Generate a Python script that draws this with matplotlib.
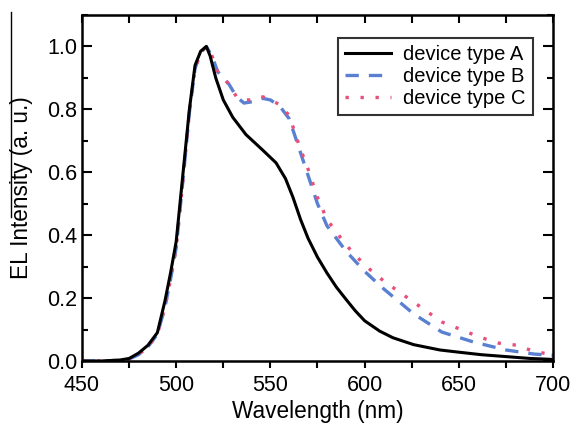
import matplotlib
matplotlib.use("Agg")
import matplotlib.pyplot as plt
from matplotlib.lines import Line2D
from matplotlib.ticker import MultipleLocator, FormatStrFormatter

plt.rcParams['font.family'] = ['Liberation Sans', 'DejaVu Sans']

# device type A
wl_a = [450, 460, 470, 475, 480, 485, 490, 494, 497, 500, 504, 507, 510, 513, 516,
        518, 521, 525, 530, 537, 546, 553, 558, 562, 566, 570, 575, 580, 585, 590,
        595, 600, 608, 615, 626, 640, 650, 662, 675, 688, 700]
int_a = [0.0, 0.0, 0.003, 0.008, 0.025, 0.05, 0.09, 0.19, 0.28, 0.38, 0.62, 0.80, 0.94, 0.985, 1.0,
         0.97, 0.90, 0.83, 0.775, 0.72, 0.67, 0.63, 0.58, 0.52, 0.45, 0.39, 0.33, 0.28, 0.235, 0.197,
         0.16, 0.128, 0.095, 0.074, 0.052, 0.035, 0.028, 0.02, 0.014, 0.008, 0.005]

# device type B
wl_b = [450, 460, 470, 475, 480, 485, 490, 494, 497, 500, 504, 507, 510, 513, 516,
        519, 522, 525, 528, 532, 536, 541, 546, 550, 555, 560, 565, 570, 575,
        580, 590, 600, 610, 620, 626, 641, 658, 675, 690, 700]
int_b = [0.0, 0.0, 0.002, 0.006, 0.02, 0.045, 0.085, 0.17, 0.26, 0.36, 0.60, 0.79, 0.93, 0.98, 1.0,
         0.97, 0.92, 0.90, 0.88, 0.84, 0.82, 0.825, 0.835, 0.83, 0.81, 0.77, 0.68, 0.59, 0.50,
         0.43, 0.35, 0.285, 0.23, 0.18, 0.15, 0.092, 0.06, 0.035, 0.022, 0.018]

# device type C
wl_c = [450, 460, 470, 475, 480, 485, 490, 494, 497, 500, 504, 507, 510, 513, 516,
        519, 522, 525, 528, 532, 536, 541, 546, 550, 555, 560, 565, 570, 575,
        580, 590, 600, 610, 623, 641, 652, 661, 671, 681, 690, 700]
int_c = [0.0, 0.0, 0.002, 0.006, 0.02, 0.045, 0.085, 0.17, 0.26, 0.36, 0.60, 0.79, 0.93, 0.98, 1.0,
         0.97, 0.92, 0.90, 0.88, 0.84, 0.83, 0.83, 0.84, 0.83, 0.815, 0.78, 0.69, 0.61, 0.52,
         0.45, 0.37, 0.305, 0.255, 0.20, 0.124, 0.098, 0.076, 0.057, 0.05, 0.03, 0.02]

fig = plt.figure(figsize=(5.73, 4.24), dpi=100)
ax = fig.add_axes([0.1431, 0.1486, 0.822, 0.816])

ax.plot(wl_a, int_a, color='black', lw=2.2, label='device type A', zorder=3)
ax.plot(wl_b, int_b, color='#5A80D2', lw=2.4, dashes=(4, 3), label='device type B', zorder=2)
ax.plot(wl_c, int_c, color='#E6507A', lw=2.4, dashes=(1, 3.5), label='device type C', zorder=2)

ax.set_xlim(450, 700)
ax.set_ylim(0, 1.1)
ax.xaxis.set_major_locator(MultipleLocator(50))
ax.xaxis.set_minor_locator(MultipleLocator(25))
ax.yaxis.set_major_locator(MultipleLocator(0.2))
ax.yaxis.set_minor_locator(MultipleLocator(0.1))
ax.yaxis.set_major_formatter(FormatStrFormatter('%.1f'))

ax.tick_params(axis='y', which='both', direction='in', left=True, right=True, labelsize=15.5, width=1.5)
ax.tick_params(axis='y', which='major', length=7)
ax.tick_params(axis='y', which='minor', length=4)
ax.tick_params(axis='x', which='both', direction='out', top=False, labelsize=15.5,
               width=1.5, length=5, pad=5)
for w in ax.spines.values():
    w.set_linewidth(1.8)

# inward ticks along the top edge
sec = ax.secondary_xaxis('top')
sec.xaxis.set_major_locator(MultipleLocator(50))
sec.xaxis.set_minor_locator(MultipleLocator(25))
sec.tick_params(which='both', direction='in', length=6, width=1.5, labeltop=False)

ax.set_xlabel('Wavelength (nm)', fontsize=16.3, labelpad=3)
ax.set_ylabel('EL Intensity (a. u.)', fontsize=16.3, labelpad=10)

leg = ax.legend(loc='upper right', bbox_to_anchor=(0.9575, 0.9335), fontsize=14.5,
                frameon=True, fancybox=False, edgecolor='black', handlelength=2.3,
                borderpad=0.35, labelspacing=0.15, handletextpad=0.6, borderaxespad=0)
leg.get_frame().set_linewidth(1.5)

# stray vertical line at the left edge of the original image
fig.add_artist(Line2D([0.0192, 0.0192], [0.9717, 0.488], color='black', lw=1.0))

fig.savefig('out.png', dpi=100)
